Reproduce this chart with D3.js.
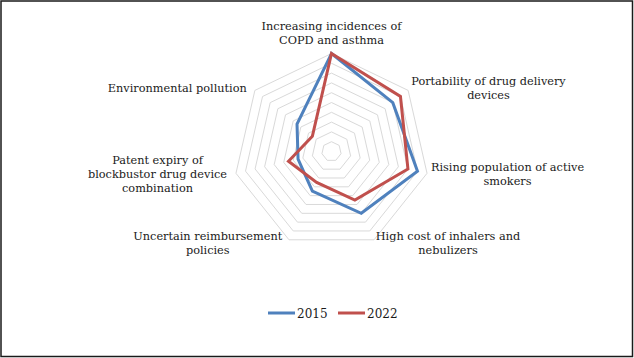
<!DOCTYPE html>
<html>
<head>
<meta charset="utf-8">
<script src="https://cdn.jsdelivr.net/npm/d3@7"></script>
<style>
  body { margin: 0; background: #fff; }
  svg text { font-family: "DejaVu Serif", "Liberation Serif", serif; fill: #1a1a1a; }
</style>
</head>
<body>
<div id="chart"></div>
<script>
let width = 634;
let height = 358;

// axis labels, one entry per line of text
const categories = [
  ["Increasing incidences of", "COPD and asthma"],
  ["Portability of drug delivery", "devices"],
  ["Rising population of active", "smokers"],
  ["High cost of inhalers and", "nebulizers"],
  ["Uncertain reimbursement", "policies"],
  ["Patent expiry of", "blockbustor drug device", "combination"],
  ["Environmental pollution"]
];
const seriesNames = ["2015", "2022"];
const values2015 = [10, 8, 9, 7, 4.5, 3.5, 4.5];
const values2022 = [10, 9, 8, 5.5, 3.5, 4.5, 2.5];
const gridTicks = [1, 2, 3, 4, 5, 6, 7, 8, 9, 10];
const colors = ["#4f81bd", "#c0504d"];

let cx = 331.5, cy = 151.5, radius = 98;
let fontSize = 11.3, lineH = 14;

let svg = d3.select("#chart").append("svg")
  .attr("width", width)
  .attr("height", height);

// frame
svg.append("rect")
  .attr("x", 1).attr("y", 1)
  .attr("width", width - 2.5).attr("height", height - 2.5)
  .attr("fill", "#fff")
  .attr("stroke", "#1a1a1a")
  .attr("stroke-width", 1.5);

let g = svg.append("g").attr("transform", `translate(${cx},${cy})`);

let r = d3.scaleLinear().domain([0, 10]).range([0, radius]);
let angle = d3.scaleLinear().domain([0, categories.length]).range([0, 2 * Math.PI]);

let radial = d3.lineRadial()
  .angle((d, i) => angle(i))
  .radius(d => r(d))
  .curve(d3.curveLinearClosed);

// grid rings
g.append("g").attr("class", "grid")
  .selectAll("path")
  .data(gridTicks)
  .enter().append("path")
    .attr("d", t => radial(categories.map(() => t)))
    .attr("fill", "none")
    .attr("stroke", "#d9d9d9")
    .attr("stroke-width", 1);

// series
let series = [values2015, values2022];
g.append("g").attr("class", "series")
  .selectAll("path")
  .data(series)
  .enter().append("path")
    .attr("d", d => radial(d))
    .attr("fill", "none")
    .attr("stroke", (d, i) => colors[i])
    .attr("stroke-width", 3)
    .attr("stroke-linejoin", "miter");

// axis labels
let labels = g.append("g").attr("class", "labels");
categories.forEach(function(lines, i) {
  let a = angle(i);
  let rr = radius + 4;
  let px = rr * Math.sin(a);
  let py = -rr * Math.cos(a);
  let block = labels.append("text")
    .attr("font-size", fontSize)
    .attr("text-anchor", "middle");
  let spans = block.selectAll("tspan")
    .data(lines)
    .enter().append("tspan")
      .text(d => d);
  let w = d3.max(spans.nodes(), n => n.getComputedTextLength());
  let bx = px;
  if (Math.sin(a) > 0.1) bx = px + w / 2;
  else if (Math.sin(a) < -0.1) bx = px - 5 - w / 2;
  let by;
  if (Math.cos(a) > 0.9) by = py - lineH * lines.length / 2 - 2;
  else by = py;
  let first = by - (lines.length - 1) * lineH / 2 + 0.35 * fontSize;
  spans.attr("x", bx).attr("y", (d, j) => first + j * lineH);
});

// legend
let legend = svg.append("g").attr("class", "legend")
  .attr("transform", "translate(268,313)");
let item = legend.selectAll("g")
  .data(seriesNames)
  .enter().append("g")
    .attr("transform", (d, i) => `translate(${i * 70},0)`);
item.append("line")
  .attr("x1", 0).attr("x2", 27)
  .attr("stroke", (d, i) => colors[i])
  .attr("stroke-width", 3);
item.append("text")
  .attr("x", 29).attr("y", 4.5)
  .attr("font-size", 12)
  .text(d => d);
</script>
</body>
</html>
